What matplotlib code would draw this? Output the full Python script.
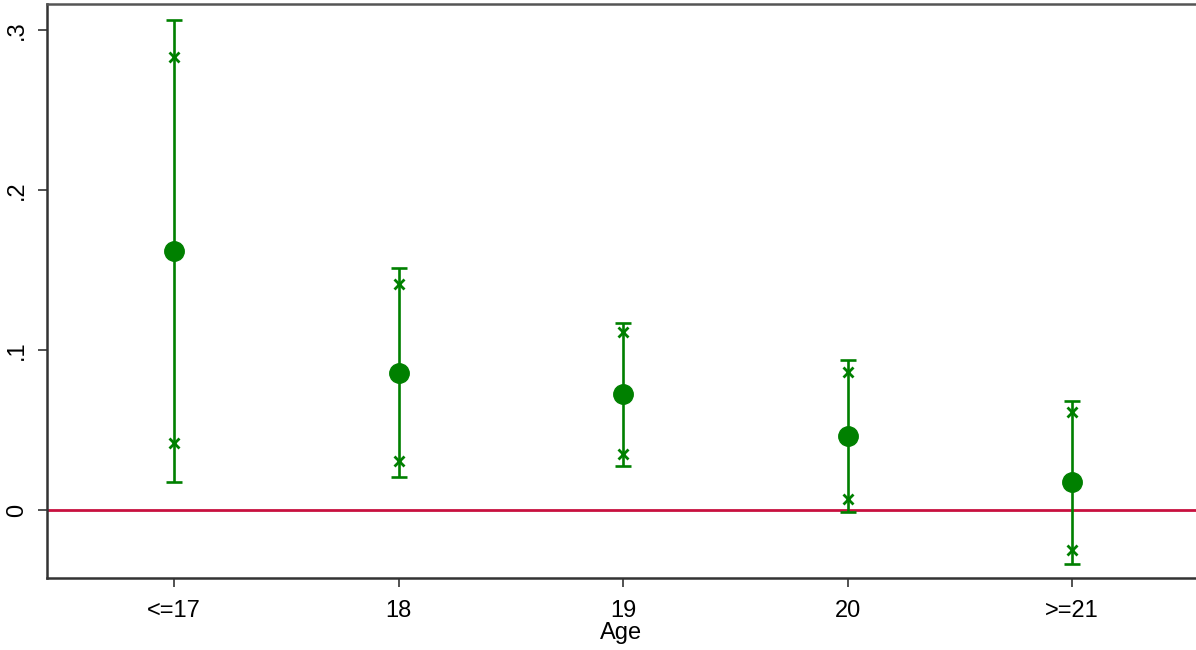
import numpy as np
import matplotlib.pyplot as plt

plt.rcParams['font.family'] = ['Liberation Sans', 'DejaVu Sans']

# Point estimates by age group, with 95% (capped) and 90% (x marks) intervals
age_labels = ['<=17', '18', '19', '20', '>=21']
coef = [0.162, 0.0856, 0.0725, 0.046, 0.0175]
ci95_lo = [0.0175, 0.0206, 0.0275, -0.0013, -0.034]
ci95_hi = [0.306, 0.151, 0.117, 0.094, 0.068]
ci90_lo = [0.042, 0.0306, 0.035, 0.0069, -0.025]
ci90_hi = [0.283, 0.141, 0.111, 0.086, 0.061]

green = '#008000'
x = np.arange(1, len(age_labels) + 1)

fig = plt.figure(figsize=(11.96, 6.5), dpi=100)
ax = fig.add_axes([0.0393, 0.1108, 0.9607, 0.883])

ax.axhline(0, color='#C8103F', lw=2.0, zorder=1)

yerr = [np.array(coef) - np.array(ci95_lo), np.array(ci95_hi) - np.array(coef)]
ax.errorbar(x, coef, yerr=yerr, fmt='none', ecolor=green, elinewidth=1.9,
            capsize=5.5, capthick=1.9, zorder=2)
ax.plot(x, ci90_lo, 'x', color=green, ms=6.5, mew=2, zorder=3)
ax.plot(x, ci90_hi, 'x', color=green, ms=6.5, mew=2, zorder=3)
ax.plot(x, coef, 'o', color=green, ms=14, zorder=4)

ax.set_xlim(0.4343, 5.552)
ax.set_ylim(-0.0425, 0.31625)
ax.set_xticks(x)
ax.set_xticklabels(age_labels, fontsize=17)
ax.set_yticks([0, 0.1, 0.2, 0.3])
ax.set_yticklabels(['0', '.1', '.2', '.3'], fontsize=17, rotation=90, va='center')
ax.tick_params(axis='both', length=6.5, width=1.2, color='#333333')
ax.tick_params(axis='y', pad=7)
ax.tick_params(axis='x', pad=9)
ax.set_xlabel('Age', fontsize=17, labelpad=0)

for side in ['left', 'bottom']:
    ax.spines[side].set_linewidth(1.8)
    ax.spines[side].set_color('#333333')
ax.spines['top'].set_linewidth(1.8)
ax.spines['top'].set_color('#555555')
ax.spines['right'].set_visible(False)

fig.savefig('out.png', dpi=100)
